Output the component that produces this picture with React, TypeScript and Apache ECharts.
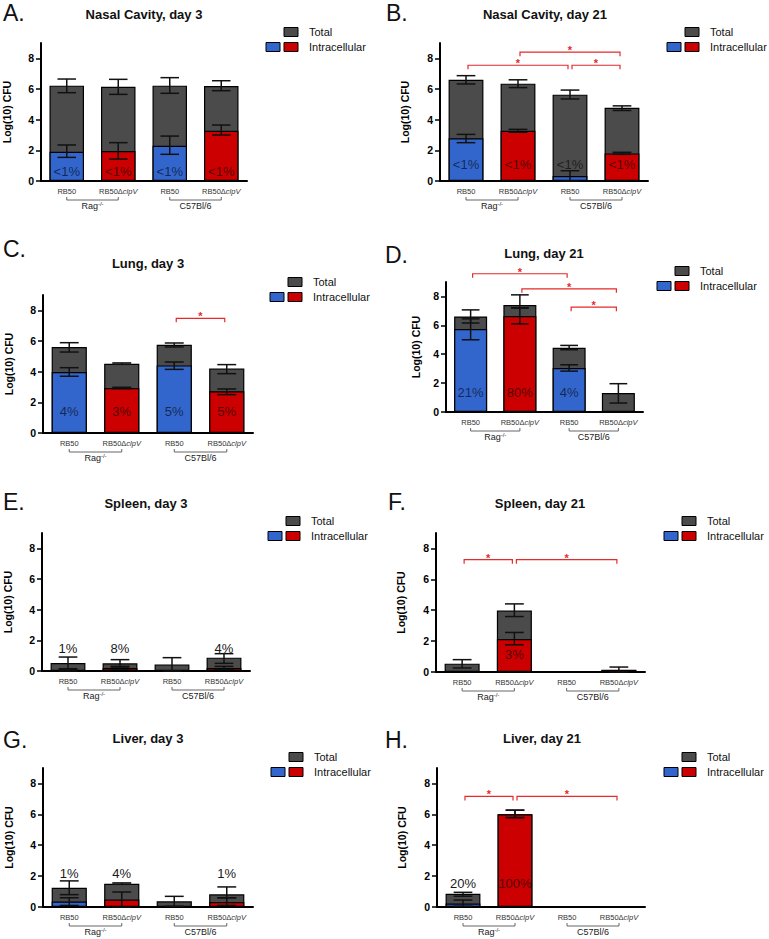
import React, { useEffect, useRef } from 'react';
import * as echarts from 'echarts';

const FONT = '"Liberation Sans", Arial, Helvetica, sans-serif';

const categories = ['RB50', 'RB50ΔclpV', 'RB50', 'RB50ΔclpV'];
const groupNames = ['Rag', 'C57Bl/6'];
const groupSup = ['-/-', ''];
const groupSpans = [[0, 1], [2, 3]];
const yTickValues = [0, 2, 4, 6, 8];
const yMax = 9;
const panelLetters = ['A.', 'B.', 'C.', 'D.', 'E.', 'F.', 'G.', 'H.'];
const panelTitles = [
  'Nasal Cavity, day 3', 'Nasal Cavity, day 21', 'Lung, day 3', 'Lung, day 21',
  'Spleen, day 3', 'Spleen, day 21', 'Liver, day 3', 'Liver, day 21',
];
const legendLabels = ['Total', 'Intracellular'];
const yAxisTitle = 'Log(10) CFU';

// A. Nasal cavity, day 3
const nasal3Total = [6.22, 6.15, 6.22, 6.2];
const nasal3TotalErr = [[5.76, 6.65], [5.65, 6.63], [5.72, 6.74], [5.89, 6.54]];
const nasal3Intra = [1.91, 1.95, 2.3, 3.28];
const nasal3IntraErr = [[1.54, 2.35], [1.43, 2.5], [1.74, 2.93], [3.0, 3.65]];
const nasal3Pct = ['<1%', '<1%', '<1%', '<1%'];
const nasal3PctAt = 0.6;
const nasal3Sig: number[][] = [];

// B. Nasal cavity, day 21
const nasal21Total = [6.6, 6.35, 5.63, 4.77];
const nasal21TotalErr = [[6.33, 6.87], [6.09, 6.6], [5.35, 5.93], [4.6, 4.9]];
const nasal21Intra = [2.78, 3.28, 0.33, 1.8];
const nasal21IntraErr = [[2.5, 3.04], [3.18, 3.37], [0, 0.67], [1.74, 1.87]];
const nasal21Pct = ['<1%', '<1%', '<1%', '<1%'];
const nasal21PctAt = 1.05;
const nasal21Sig = [[0, 2, 7.55], [1, 3, 8.4], [2, 3, 7.55]];

// C. Lung, day 3
const lung3Total = [5.61, 4.52, 5.76, 4.2];
const lung3TotalErr = [[5.28, 5.89], [4.48, 4.57], [5.61, 5.87], [3.87, 4.46]];
const lung3Intra = [3.98, 2.93, 4.41, 2.72];
const lung3IntraErr = [[3.7, 4.26], [2.89, 2.98], [4.15, 4.63], [2.5, 2.87]];
const lung3Pct = ['4%', '3%', '5%', '5%'];
const lung3PctAt = 1.37;
const lung3Sig = [[2, 3, 7.48]];

// D. Lung, day 21
const lung21Total = [6.61, 7.4, 4.45, 1.31];
const lung21TotalErr = [[6.16, 7.07], [7.21, 8.11], [4.31, 4.61], [0.62, 1.96]];
const lung21Intra = [5.74, 6.64, 3.04, 0];
const lung21IntraErr = [[5.0, 6.45], [6.1, 7.2], [2.83, 3.27], [0, 0]];
const lung21Pct = ['21%', '80%', '4%', ''];
const lung21PctAt = 1.38;
const lung21Sig = [[0, 2, 9.57], [1, 3, 8.53], [2, 3, 7.26]];

// E. Spleen, day 3
const spleen3Total = [0.52, 0.5, 0.43, 0.87];
const spleen3TotalErr = [[0.15, 0.91], [0.26, 0.74], [0, 0.87], [0.5, 1.13]];
const spleen3Intra = [0.05, 0.2, 0, 0.2];
const spleen3IntraErr = [[0, 0.1], [0.1, 0.3], [0, 0], [0.1, 0.3]];
const spleen3Pct = ['1%', '8%', '', '4%'];
const spleen3PctAt = 1.5;
const spleen3Sig: number[][] = [];

// F. Spleen, day 21
const spleen21Total = [0.54, 3.98, 0, 0.15];
const spleen21TotalErr = [[0.26, 0.8], [3.59, 4.41], [0, 0], [0, 0.32]];
const spleen21Intra = [0, 2.13, 0, 0.12];
const spleen21IntraErr = [[0, 0], [1.76, 2.56], [0, 0], [0.12, 0.12]];
const spleen21Pct = ['', '3%', '', ''];
const spleen21PctAt = 1.16;
const spleen21Sig = [[0, 1, 7.27], [1, 3, 7.27]];

// G. Liver, day 3
const liver3Total = [1.25, 1.51, 0.37, 0.82];
const liver3TotalErr = [[0.8, 1.69], [1.47, 1.56], [0.05, 0.69], [0.6, 1.3]];
const liver3Intra = [0.35, 0.48, 0, 0.32];
const liver3IntraErr = [[0.1, 0.6], [0, 0.97], [0, 0], [0.1, 0.6]];
const liver3Pct = ['1%', '4%', '', '1%'];
const liver3PctAt = 2.2;
const liver3Sig: number[][] = [];

// H. Liver, day 21
const liver21Total = [0.85, 6.01, 0, 0];
const liver21TotalErr = [[0.7, 0.95], [5.79, 6.27], [0, 0], [0, 0]];
const liver21Intra = [0.22, 6.01, 0, 0];
const liver21IntraErr = [[0.05, 0.45], [5.79, 6.27], [0, 0], [0, 0]];
const liver21Pct = ['20%', '100%', '', ''];
const liver21PctAt = 1.5;
const liver21Sig = [[0, 1, 7.16], [1, 3, 7.16]];

const PANELS = [
  { total: nasal3Total, totalErr: nasal3TotalErr, intra: nasal3Intra, intraErr: nasal3IntraErr, pct: nasal3Pct, pctAt: nasal3PctAt, sig: nasal3Sig },
  { total: nasal21Total, totalErr: nasal21TotalErr, intra: nasal21Intra, intraErr: nasal21IntraErr, pct: nasal21Pct, pctAt: nasal21PctAt, sig: nasal21Sig },
  { total: lung3Total, totalErr: lung3TotalErr, intra: lung3Intra, intraErr: lung3IntraErr, pct: lung3Pct, pctAt: lung3PctAt, sig: lung3Sig },
  { total: lung21Total, totalErr: lung21TotalErr, intra: lung21Intra, intraErr: lung21IntraErr, pct: lung21Pct, pctAt: lung21PctAt, sig: lung21Sig },
  { total: spleen3Total, totalErr: spleen3TotalErr, intra: spleen3Intra, intraErr: spleen3IntraErr, pct: spleen3Pct, pctAt: spleen3PctAt, sig: spleen3Sig },
  { total: spleen21Total, totalErr: spleen21TotalErr, intra: spleen21Intra, intraErr: spleen21IntraErr, pct: spleen21Pct, pctAt: spleen21PctAt, sig: spleen21Sig },
  { total: liver3Total, totalErr: liver3TotalErr, intra: liver3Intra, intraErr: liver3IntraErr, pct: liver3Pct, pctAt: liver3PctAt, sig: liver3Sig },
  { total: liver21Total, totalErr: liver21TotalErr, intra: liver21Intra, intraErr: liver21IntraErr, pct: liver21Pct, pctAt: liver21PctAt, sig: liver21Sig },
];

// layout (pixels)
const LAYOUT = [
  { grid: [41, 43, 206, 138], title: [144, 14], letter: [3, 13], legend: [284, 32], nameGap: 29 },
  { grid: [440, 43, 208, 138], title: [545, 14], letter: [386, 13], legend: [685, 32], nameGap: 30 },
  { grid: [43, 295, 210, 138], title: [148, 263], letter: [3, 249], legend: [288, 282], nameGap: 29 },
  { grid: [446, 282, 197, 130], title: [544, 253], letter: [385, 255], legend: [675, 271], nameGap: 25 },
  { grid: [42, 533, 208, 138], title: [146, 503], letter: [3, 502], legend: [286, 521], nameGap: 29 },
  { grid: [436, 533, 209, 139], title: [540, 503], letter: [388, 502], legend: [682, 521], nameGap: 30 },
  { grid: [43, 768, 210, 139], title: [148, 738], letter: [3, 740], legend: [289, 757], nameGap: 29 },
  { grid: [437, 768, 208, 139], title: [542, 738], letter: [385, 740], legend: [682, 757], nameGap: 30 },
];

const GRAY = '#4b4b4b';
const BLUE = '#3366cc';
const RED = '#cc0000';
const SIG = '#e52a2a';

function buildOption() {
  const grids: any[] = [];
  const xAxes: any[] = [];
  const yAxes: any[] = [];
  const series: any[] = [];
  const graphics: any[] = [];

  LAYOUT.forEach((L, p) => {
    const d = PANELS[p];
    grids.push({ left: L.grid[0], top: L.grid[1], width: L.grid[2], height: L.grid[3] });
    xAxes.push({
      type: 'category',
      gridIndex: p,
      data: categories,
      axisLine: { show: true, lineStyle: { color: '#000', width: 2 } },
      axisTick: { show: false },
      splitLine: { show: false },
      axisLabel: {
        interval: 0,
        margin: 6,
        formatter: (v: string) => {
          const k = v.indexOf('Δ');
          return k >= 0 ? `{n|${v.slice(0, k + 1)}}{i|${v.slice(k + 1)}}` : `{n|${v}}`;
        },
        rich: {
          n: { fontSize: 7.5, fontFamily: FONT, color: '#333' },
          i: { fontSize: 7.5, fontFamily: FONT, color: '#333', fontStyle: 'italic' },
        },
      },
    });
    yAxes.push({
      type: 'value',
      gridIndex: p,
      min: 0,
      max: yMax,
      name: yAxisTitle,
      nameLocation: 'middle',
      nameGap: L.nameGap,
      nameTextStyle: { fontFamily: FONT, fontWeight: 'bold', fontSize: 10.5, color: '#000' },
      axisLine: { show: true, lineStyle: { color: '#000', width: 2 } },
      axisTick: { show: true, length: 5, customValues: yTickValues, lineStyle: { color: '#000', width: 1.5 } },
      axisLabel: {
        customValues: yTickValues,
        margin: 7,
        fontFamily: FONT,
        fontWeight: 'bold',
        fontSize: 10.5,
        color: '#000',
      },
      splitLine: { show: false },
    });

    series.push({
      type: 'bar',
      xAxisIndex: p,
      yAxisIndex: p,
      barWidth: '67%',
      barGap: '-100%',
      data: d.total,
      itemStyle: { color: GRAY, borderColor: '#000', borderWidth: 1.2 },
      z: 2,
    });
    series.push({
      type: 'bar',
      xAxisIndex: p,
      yAxisIndex: p,
      barWidth: '67%',
      barGap: '-100%',
      data: d.intra.map((v, i) => ({
        value: v,
        itemStyle: { color: i % 2 === 0 ? BLUE : RED, borderColor: '#000', borderWidth: v > 0 ? 1.2 : 0 },
      })),
      z: 3,
    });

    const errData: number[][] = [];
    d.total.forEach((_, i) => {
      errData.push([i, d.totalErr[i][0], d.totalErr[i][1]]);
      errData.push([i, d.intraErr[i][0], d.intraErr[i][1]]);
    });
    series.push({
      type: 'custom',
      xAxisIndex: p,
      yAxisIndex: p,
      data: errData,
      encode: { x: 0, y: [1, 2] },
      z: 5,
      renderItem: (params: any, api: any) => {
        const x = api.value(0);
        const lo = api.value(1);
        const hi = api.value(2);
        if (!(hi - lo > 1e-6)) return null;
        const a = api.coord([x, lo]);
        const b = api.coord([x, hi]);
        const hw = api.size([1, 0])[0] * 0.18;
        const st = { stroke: '#111', lineWidth: 1.5 };
        return {
          type: 'group',
          children: [
            { type: 'line', shape: { x1: a[0], y1: a[1], x2: b[0], y2: b[1] }, style: st },
            { type: 'line', shape: { x1: a[0] - hw, y1: a[1], x2: a[0] + hw, y2: a[1] }, style: st },
            { type: 'line', shape: { x1: b[0] - hw, y1: b[1], x2: b[0] + hw, y2: b[1] }, style: st },
          ],
        };
      },
    });

    series.push({
      type: 'custom',
      xAxisIndex: p,
      yAxisIndex: p,
      data: d.pct.map((_, i) => [i, d.pctAt]),
      encode: { x: 0, y: 1 },
      z: 6,
      renderItem: (params: any, api: any) => {
        const i = params.dataIndex;
        const txt = d.pct[i];
        if (!txt) return null;
        const pt = api.coord([api.value(0), api.value(1)]);
        const inside = d.pctAt < d.total[i];
        return {
          type: 'text',
          x: pt[0],
          y: pt[1],
          style: {
            text: txt,
            fill: inside ? 'rgba(0,0,0,0.62)' : '#1a1a1a',
            font: `13px ${FONT}`,
            align: 'center',
            verticalAlign: 'middle',
            textAlign: 'center',
            textVerticalAlign: 'middle',
          },
        };
      },
    });

    if (d.sig.length) {
      series.push({
        type: 'custom',
        xAxisIndex: p,
        yAxisIndex: p,
        data: d.sig,
        encode: { x: 0, y: 2 },
        z: 6,
        renderItem: (params: any, api: any) => {
          const p1 = api.coord([api.value(0), api.value(2)]);
          const p2 = api.coord([api.value(1), api.value(2)]);
          const x1 = p1[0] + 2;
          const x2 = p2[0] - 2;
          const y = p1[1];
          return {
            type: 'group',
            children: [
              {
                type: 'polyline',
                shape: { points: [[x1, y + 4], [x1, y], [x2, y], [x2, y + 4]] },
                style: { stroke: SIG, lineWidth: 1.2, fill: null },
              },
              {
                type: 'text',
                x: (x1 + x2) / 2,
                y: y - 2,
                style: {
                  text: '*',
                  fill: SIG,
                  font: `bold 11px ${FONT}`,
                  align: 'center',
                  verticalAlign: 'middle',
                  textAlign: 'center',
                  textVerticalAlign: 'middle',
                },
              },
            ],
          };
        },
      });
    }

    series.push({
      type: 'custom',
      xAxisIndex: p,
      yAxisIndex: p,
      data: groupSpans.map((s) => [s[0], 0, s[1]]),
      encode: { x: 0, y: 1 },
      z: 6,
      renderItem: (params: any, api: any) => {
        const g = params.dataIndex;
        const p1 = api.coord([api.value(0), 0]);
        const p2 = api.coord([api.value(2), 0]);
        const y = p1[1] + 19;
        const txt = groupSup[g] ? `{n|${groupNames[g]}}{s|${groupSup[g]}}` : `{n|${groupNames[g]}}`;
        return {
          type: 'group',
          children: [
            {
              type: 'polyline',
              shape: { points: [[p1[0], y - 3], [p1[0], y], [p2[0], y], [p2[0], y - 3]] },
              style: { stroke: '#666', lineWidth: 1, fill: null },
            },
            {
              type: 'text',
              x: (p1[0] + p2[0]) / 2,
              y: y + 6,
              style: {
                text: txt,
                align: 'center',
                verticalAlign: 'middle',
                textAlign: 'center',
                textVerticalAlign: 'middle',
                rich: {
                  n: { fontSize: 9, fontFamily: FONT, fill: '#222', color: '#222', lineHeight: 11 },
                  s: { fontSize: 6, fontFamily: FONT, fill: '#222', color: '#222', lineHeight: 7, verticalAlign: 'top' },
                },
              },
            },
          ],
        };
      },
    });

    // letter, title, legend
    graphics.push({
      type: 'text',
      x: L.letter[0],
      y: L.letter[1],
      style: {
        text: panelLetters[p],
        font: `23px ${FONT}`,
        fill: '#111',
        align: 'left',
        verticalAlign: 'middle',
        textAlign: 'left',
        textVerticalAlign: 'middle',
      },
    });
    graphics.push({
      type: 'text',
      x: L.title[0],
      y: L.title[1],
      style: {
        text: panelTitles[p],
        font: `bold 13px ${FONT}`,
        fill: '#111',
        align: 'center',
        verticalAlign: 'middle',
        textAlign: 'center',
        textVerticalAlign: 'middle',
      },
    });
    const [lx, ly] = L.legend;
    const boxes = [
      { x: lx, y: ly - 4.5, c: GRAY },
      { x: lx - 18, y: ly + 15 - 4.5, c: BLUE },
      { x: lx, y: ly + 15 - 4.5, c: RED },
    ];
    boxes.forEach((b) => {
      graphics.push({
        type: 'rect',
        shape: { x: b.x, y: b.y, width: 14, height: 9 },
        style: { fill: b.c, stroke: '#000', lineWidth: 1 },
      });
    });
    legendLabels.forEach((t, k) => {
      graphics.push({
        type: 'text',
        x: lx + 25,
        y: ly + 15 * k,
        style: {
          text: t,
          font: `11px ${FONT}`,
          fill: '#111',
          align: 'left',
          verticalAlign: 'middle',
          textAlign: 'left',
          textVerticalAlign: 'middle',
        },
      });
    });
  });

  return {
    animation: false,
    backgroundColor: '#fff',
    grid: grids,
    xAxis: xAxes,
    yAxis: yAxes,
    series,
    graphic: { elements: graphics },
  };
}

export default function App() {
  const ref = useRef<HTMLDivElement>(null);
  useEffect(() => {
    if (!ref.current) return;
    const chart = echarts.init(ref.current, null, { renderer: 'svg' });
    chart.setOption(buildOption() as any);
    return () => chart.dispose();
  }, []);
  return (
    <div
      ref={ref}
      style={{ position: 'fixed', left: 0, top: 0, width: 769, height: 939, background: '#fff' }}
    />
  );
}
